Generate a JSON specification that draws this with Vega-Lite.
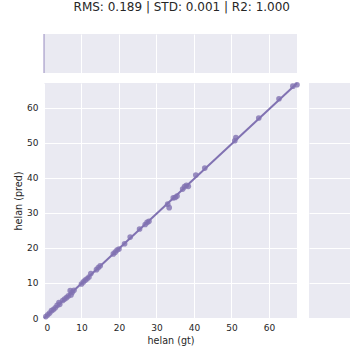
{
  "$schema": "https://vega.github.io/schema/vega-lite/v6.json",
  "padding": {"left": 13, "top": 0, "right": 5, "bottom": 5},
  "background": "white",
  "title": {"text": "RMS: 0.189 | STD: 0.001 | R2: 1.000", "fontSize": 12, "font": "DejaVu Sans", "fontWeight": "normal", "color": "#262626", "anchor": "middle", "offset": 20},
  "config": {
    "view": {"fill": "#EAEAF2", "stroke": null},
    "axis": {"gridColor": "white", "gridWidth": 1, "domain": false, "ticks": false, "labelFont": "DejaVu Sans", "titleFont": "DejaVu Sans", "labelFontSize": 9, "titleFontSize": 9.6, "titleFontWeight": "normal", "labelColor": "#262626", "titleColor": "#262626", "labelPadding": 5, "titlePadding": 3}
  },
  "datasets": {
    "pts": [
      {"gt": 0.5, "pred": 0.4}, {"gt": 1.0, "pred": 0.9}, {"gt": 1.5, "pred": 1.4}, {"gt": 2.0, "pred": 2.1},
      {"gt": 2.5, "pred": 2.4}, {"gt": 3.0, "pred": 2.9}, {"gt": 3.5, "pred": 3.6}, {"gt": 4.0, "pred": 4.4},
      {"gt": 4.2, "pred": 3.9}, {"gt": 5.0, "pred": 5.0}, {"gt": 5.5, "pred": 5.4}, {"gt": 6.0, "pred": 5.8},
      {"gt": 6.5, "pred": 6.3}, {"gt": 7.0, "pred": 7.8}, {"gt": 7.2, "pred": 6.6}, {"gt": 7.5, "pred": 7.3},
      {"gt": 8.0, "pred": 7.9}, {"gt": 10.0, "pred": 9.7}, {"gt": 10.5, "pred": 10.3}, {"gt": 11.0, "pred": 10.8},
      {"gt": 11.5, "pred": 11.2}, {"gt": 12.0, "pred": 11.7}, {"gt": 12.5, "pred": 12.7}, {"gt": 14.0, "pred": 13.8},
      {"gt": 14.5, "pred": 14.4}, {"gt": 15.0, "pred": 14.9}, {"gt": 18.5, "pred": 18.3}, {"gt": 19.0, "pred": 18.8},
      {"gt": 19.5, "pred": 19.4}, {"gt": 20.0, "pred": 19.7}, {"gt": 21.5, "pred": 21.2}, {"gt": 23.0, "pred": 23.1},
      {"gt": 25.5, "pred": 25.4}, {"gt": 27.0, "pred": 26.7}, {"gt": 27.5, "pred": 27.3}, {"gt": 28.0, "pred": 27.6},
      {"gt": 33.0, "pred": 32.5}, {"gt": 33.4, "pred": 31.5}, {"gt": 34.5, "pred": 34.3}, {"gt": 35.0, "pred": 34.4},
      {"gt": 35.5, "pred": 34.8}, {"gt": 37.0, "pred": 36.8}, {"gt": 37.5, "pred": 37.5}, {"gt": 38.0, "pred": 37.9},
      {"gt": 38.5, "pred": 37.6}, {"gt": 40.5, "pred": 40.8}, {"gt": 42.9, "pred": 42.8}, {"gt": 50.9, "pred": 50.6},
      {"gt": 51.2, "pred": 51.5}, {"gt": 57.3, "pred": 57.1}, {"gt": 62.7, "pred": 62.6}, {"gt": 66.4, "pred": 66.2},
      {"gt": 67.5, "pred": 66.6}
    ],
    "marg": [{"v": 0}]
  },
  "spacing": 5,
  "vconcat": [
    {
      "width": 253, "height": 39,
      "data": {"name": "marg"},
      "mark": {"type": "rule", "color": "#8172B2", "strokeWidth": 1, "opacity": 0.8},
      "encoding": {
        "x": {"field": "v", "type": "quantitative", "scale": {"domain": [0, 67.5], "nice": false, "zero": false},
              "axis": {"labels": false, "title": null, "values": [10, 20, 30, 40, 50, 60]}}
      }
    },
    {
      "spacing": 8,
      "hconcat": [
        {
          "width": 253, "height": 235,
          "data": {"name": "pts"},
          "encoding": {
            "x": {"field": "gt", "type": "quantitative", "scale": {"domain": [0, 67.5], "nice": false}, "axis": {"title": "helan (gt)", "values": [0, 10, 20, 30, 40, 50, 60]}},
            "y": {"field": "pred", "type": "quantitative", "scale": {"domain": [0, 67.1], "nice": false}, "axis": {"title": "helan (pred)", "labelPadding": 6, "labelOverlap": false, "values": [0, 10, 20, 30, 40, 50, 60]}}
          },
          "layer": [
            {
              "mark": {"type": "circle", "size": 32, "opacity": 0.8, "color": "#8172B2"}
            },
            {
              "transform": [{"regression": "pred", "on": "gt", "extent": [0, 67.5]}],
              "mark": {"type": "line", "color": "#8172B2", "strokeWidth": 2}
            }
          ]
        },
        {
          "width": 41, "height": 235,
          "data": {"name": "marg"},
          "mark": {"type": "rule", "opacity": 0},
          "encoding": {
            "y": {"field": "v", "type": "quantitative", "scale": {"domain": [0, 67.1], "nice": false},
                  "axis": {"labels": false, "title": null, "values": [10, 20, 30, 40, 50, 60]}}
          }
        }
      ]
    }
  ]
}
